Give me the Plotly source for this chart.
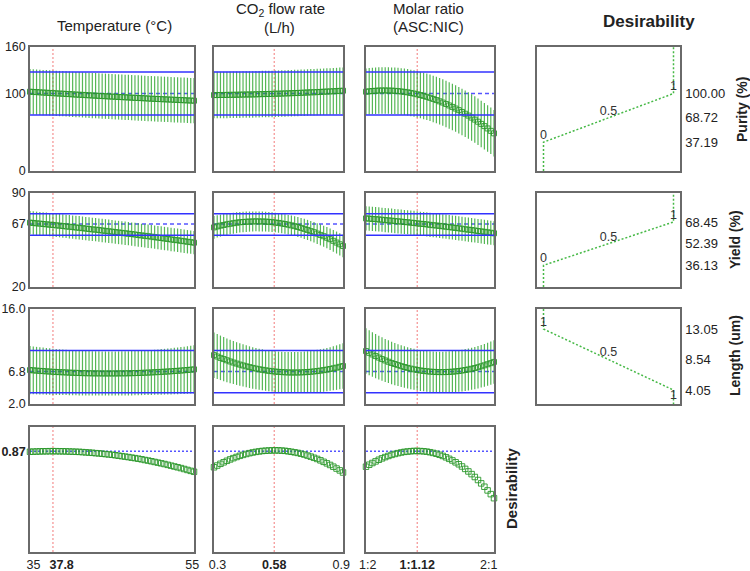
import plotly.graph_objects as go

# ---------------- data ----------------
temp_x = [35.0, 35.4, 35.8, 36.2, 36.6, 37.0, 37.4, 37.8, 38.2, 38.6, 39.0, 39.4, 39.8, 40.2, 40.6,
          41.0, 41.4, 41.8, 42.2, 42.6, 43.0, 43.4, 43.8, 44.2, 44.6, 45.0, 45.4, 45.8, 46.2, 46.6,
          47.0, 47.4, 47.8, 48.2, 48.6, 49.0, 49.4, 49.8, 50.2, 50.6, 51.0, 51.4, 51.8, 52.2, 52.6,
          53.0, 53.4, 53.8, 54.2, 54.6, 55.0]
co2_x = [0.300, 0.315, 0.330, 0.345, 0.360, 0.375, 0.390, 0.405, 0.420, 0.435, 0.450, 0.465, 0.480,
         0.495, 0.510, 0.525, 0.540, 0.555, 0.570, 0.585, 0.600, 0.615, 0.630, 0.645, 0.660, 0.675,
         0.690, 0.705, 0.720, 0.735, 0.750, 0.765, 0.780, 0.795, 0.810, 0.825, 0.840, 0.855, 0.870,
         0.885, 0.900]
# molar ratio ASC:NIC on a coded scale (0 = 1:2, 1 = 2:1)
molar_x = [0.000, 0.025, 0.050, 0.075, 0.100, 0.125, 0.150, 0.175, 0.200, 0.225, 0.250, 0.275, 0.300,
           0.325, 0.350, 0.375, 0.400, 0.425, 0.450, 0.475, 0.500, 0.525, 0.550, 0.575, 0.600, 0.625,
           0.650, 0.675, 0.700, 0.725, 0.750, 0.775, 0.800, 0.825, 0.850, 0.875, 0.900, 0.925, 0.950,
           0.975, 1.000]

factor_titles = ["Temperature (°C)", "CO<sub>2</sub> flow rate", "Molar ratio"]
factor_ranges = [[35, 55], [0.3, 0.9], [0.0, 1.0]]
factor_tickvals = [[35, 37.8, 55], [0.3, 0.58, 0.9], [0.0, 0.4, 1.0]]
factor_ticktext = [["35", "37.8", "55"], ["0.3", "0.58", "0.9"], ["1:2", "1:1.12", "2:1"]]
optimum_x = [37.8, 0.58, 0.4]

# Purity (%)
pur_temp = [102.3, 102.0, 101.8, 101.5, 101.2, 101.0, 100.7, 100.4, 100.2, 99.9, 99.7, 99.4, 99.2,
            98.9, 98.6, 98.4, 98.2, 97.9, 97.7, 97.4, 97.2, 96.9, 96.7, 96.5, 96.2, 96.0, 95.8, 95.5,
            95.3, 95.1, 94.9, 94.6, 94.4, 94.2, 94.0, 93.8, 93.5, 93.3, 93.1, 92.9, 92.7, 92.5, 92.3,
            92.1, 91.9, 91.7, 91.5, 91.3, 91.1, 90.9, 90.7]
pur_co2 = [98.0, 98.0, 98.1, 98.1, 98.2, 98.3, 98.3, 98.4, 98.5, 98.6, 98.7, 98.7, 98.8, 98.9, 99.1,
           99.2, 99.3, 99.4, 99.5, 99.7, 99.8, 99.9, 100.1, 100.2, 100.4, 100.6, 100.7, 100.9, 101.1,
           101.3, 101.5, 101.6, 101.8, 102.0, 102.3, 102.5, 102.7, 102.9, 103.1, 103.4, 103.6]
pur_molar = [102.3, 102.8, 103.2, 103.5, 103.8, 103.9, 103.9, 103.8, 103.7, 103.4, 103.1, 102.6, 102.1,
             101.5, 100.7, 99.9, 99.0, 98.0, 96.9, 95.7, 94.4, 93.0, 91.5, 89.9, 88.3, 86.5, 84.6, 82.7,
             80.6, 78.5, 76.2, 73.9, 71.5, 68.9, 66.3, 63.6, 60.8, 57.9, 54.9, 51.8, 48.6]
pur_temp_err = 29.2
pur_co2_err = 30.0
pur_molar_err = 30.0

# Yield (%)
yld_temp = [67.9, 67.7, 67.4, 67.2, 66.9, 66.7, 66.4, 66.2, 65.9, 65.7, 65.4, 65.1, 64.9, 64.6, 64.3,
            64.1, 63.8, 63.5, 63.2, 62.9, 62.7, 62.4, 62.1, 61.8, 61.5, 61.2, 60.9, 60.6, 60.3, 60.0,
            59.7, 59.4, 59.1, 58.7, 58.4, 58.1, 57.8, 57.5, 57.1, 56.8, 56.5, 56.1, 55.8, 55.4, 55.1,
            54.8, 54.4, 54.1, 53.7, 53.4, 53.0]
yld_co2 = [64.4, 65.1, 65.7, 66.2, 66.7, 67.1, 67.5, 67.9, 68.2, 68.4, 68.6, 68.7, 68.8, 68.9, 68.8,
           68.8, 68.7, 68.5, 68.3, 68.0, 67.7, 67.3, 66.9, 66.4, 65.9, 65.3, 64.7, 64.0, 63.3, 62.5,
           61.6, 60.8, 59.8, 58.8, 57.8, 56.7, 55.6, 54.4, 53.1, 51.8, 50.5]
yld_molar = [71.1, 70.9, 70.7, 70.5, 70.3, 70.1, 69.8, 69.6, 69.4, 69.1, 68.9, 68.7, 68.4, 68.2, 67.9,
             67.7, 67.4, 67.1, 66.9, 66.6, 66.3, 66.0, 65.8, 65.5, 65.2, 64.9, 64.6, 64.3, 64.0, 63.7,
             63.4, 63.0, 62.7, 62.4, 62.1, 61.7, 61.4, 61.1, 60.7, 60.4, 60.0]
yld_temp_err = 8.7
yld_co2_err = [8.4, 8.3, 8.2, 8.1, 8.0, 7.9, 7.8, 7.8, 7.7, 7.6, 7.6, 7.5, 7.5, 7.4, 7.4, 7.4, 7.3, 7.3,
               7.3, 7.3, 7.3, 7.3, 7.3, 7.3, 7.3, 7.4, 7.4, 7.4, 7.5, 7.5, 7.6, 7.6, 7.7, 7.8, 7.8, 7.9,
               8.0, 8.1, 8.2, 8.3, 8.4]
yld_molar_err = 9.0

# Length (um)
len_temp = [7.00, 6.96, 6.92, 6.88, 6.85, 6.81, 6.78, 6.75, 6.72, 6.69, 6.67, 6.65, 6.62, 6.60, 6.59,
            6.57, 6.55, 6.54, 6.53, 6.52, 6.51, 6.51, 6.50, 6.50, 6.50, 6.50, 6.50, 6.51, 6.52, 6.52,
            6.53, 6.54, 6.56, 6.57, 6.59, 6.61, 6.63, 6.65, 6.68, 6.70, 6.73, 6.76, 6.79, 6.82, 6.86,
            6.89, 6.93, 6.97, 7.01, 7.06, 7.10]
len_co2 = [9.20, 9.00, 8.80, 8.62, 8.44, 8.27, 8.11, 7.96, 7.81, 7.68, 7.55, 7.43, 7.32, 7.22, 7.12,
           7.04, 6.96, 6.89, 6.83, 6.78, 6.73, 6.70, 6.67, 6.65, 6.64, 6.64, 6.64, 6.66, 6.68, 6.71,
           6.75, 6.80, 6.85, 6.92, 6.99, 7.07, 7.16, 7.26, 7.36, 7.48, 7.60]
len_molar = [9.80, 9.54, 9.30, 9.06, 8.84, 8.62, 8.42, 8.23, 8.05, 7.89, 7.73, 7.58, 7.45, 7.32, 7.21,
             7.11, 7.02, 6.94, 6.87, 6.82, 6.77, 6.74, 6.71, 6.70, 6.70, 6.71, 6.73, 6.76, 6.81, 6.86,
             6.93, 7.01, 7.09, 7.19, 7.30, 7.42, 7.56, 7.70, 7.86, 8.02, 8.20]
len_temp_err = [3.55, 3.53, 3.50, 3.48, 3.46, 3.44, 3.42, 3.41, 3.39, 3.37, 3.36, 3.34, 3.33, 3.32,
                3.31, 3.30, 3.29, 3.28, 3.27, 3.27, 3.26, 3.26, 3.25, 3.25, 3.25, 3.25, 3.25, 3.25,
                3.25, 3.26, 3.26, 3.27, 3.27, 3.28, 3.29, 3.30, 3.31, 3.32, 3.33, 3.34, 3.36, 3.37,
                3.39, 3.41, 3.42, 3.44, 3.46, 3.48, 3.50, 3.53, 3.55]
len_co2_err = [3.35, 3.32, 3.28, 3.25, 3.22, 3.20, 3.17, 3.15, 3.13, 3.11, 3.09, 3.07, 3.06, 3.04,
               3.03, 3.02, 3.01, 3.01, 3.00, 3.00, 3.00, 3.00, 3.00, 3.01, 3.01, 3.02, 3.03, 3.04,
               3.06, 3.07, 3.09, 3.11, 3.13, 3.15, 3.17, 3.20, 3.22, 3.25, 3.28, 3.32, 3.35]
len_molar_err = [3.35, 3.32, 3.28, 3.25, 3.22, 3.20, 3.17, 3.15, 3.13, 3.11, 3.09, 3.07, 3.06, 3.04,
                 3.03, 3.02, 3.01, 3.01, 3.00, 3.00, 3.00, 3.00, 3.00, 3.01, 3.01, 3.02, 3.03, 3.04,
                 3.05, 3.06, 3.07, 3.08, 3.09, 3.10, 3.11, 3.12, 3.14, 3.15, 3.17, 3.18, 3.20]

# Overall desirability
des_temp = [0.866, 0.867, 0.868, 0.869, 0.870, 0.870, 0.871, 0.871, 0.871, 0.870, 0.870, 0.869, 0.868,
            0.867, 0.866, 0.865, 0.863, 0.861, 0.859, 0.857, 0.854, 0.852, 0.849, 0.846, 0.843, 0.840,
            0.836, 0.832, 0.828, 0.824, 0.820, 0.815, 0.811, 0.806, 0.801, 0.795, 0.790, 0.784, 0.778,
            0.772, 0.766, 0.760, 0.753, 0.746, 0.739, 0.732, 0.725, 0.717, 0.709, 0.701, 0.693]
des_co2 = [0.732, 0.747, 0.762, 0.775, 0.788, 0.800, 0.811, 0.821, 0.831, 0.839, 0.847, 0.854, 0.860,
           0.865, 0.869, 0.873, 0.875, 0.877, 0.878, 0.878, 0.878, 0.876, 0.874, 0.870, 0.866, 0.861,
           0.856, 0.849, 0.842, 0.833, 0.824, 0.814, 0.804, 0.792, 0.779, 0.766, 0.752, 0.737, 0.721,
           0.705, 0.687]
des_molar = [0.737, 0.754, 0.769, 0.783, 0.797, 0.809, 0.820, 0.830, 0.839, 0.847, 0.854, 0.860, 0.865,
             0.868, 0.871, 0.873, 0.873, 0.872, 0.870, 0.867, 0.862, 0.856, 0.849, 0.840, 0.830, 0.818,
             0.805, 0.791, 0.775, 0.758, 0.739, 0.718, 0.696, 0.673, 0.648, 0.622, 0.593, 0.564, 0.532,
             0.500, 0.465]

# predicted value at optimum and its interval
pur_pred, pur_low, pur_high = 100.0, 72.2, 127.8
yld_pred, yld_low, yld_high = 67.0, 58.5, 74.6
len_pred, len_low, len_high = 6.8, 3.67, 9.9
des_pred = 0.87

# individual desirability functions (response value at d = 0, 0.5, 1)
desir_x = [0, 0, 1, 1]
pur_desir_y = [0, 37.19, 100.00, 160]
yld_desir_y = [20, 36.13, 68.45, 90]
len_desir_y = [16, 13.05, 4.05, 2]
pur_desir_ticks = [37.19, 68.72, 100.00]
yld_desir_ticks = [36.13, 52.39, 68.45]
len_desir_ticks = [4.05, 8.54, 13.05]
label_x = [0, 0.5, 1]
pur_desir_labels = ["0", "0.5", "1"]
yld_desir_labels = ["0", "0.5", "1"]
len_desir_labels = ["1", "0.5", "1"]

# ---------------- figure ----------------
W, H = 750, 571
FONT = "Liberation Sans, Arial, Helvetica, sans-serif"
col_px = [(30, 194), (214, 343), (366, 494), (537, 680)]
row_px = [(47, 171), (193, 287), (309, 404), (427, 552)]

GREEN_ERR = "rgba(45,165,45,0.8)"
GREEN_MK = "rgb(40,150,40)"
BLUE = "rgb(50,50,255)"
BLUE_DASH = "rgb(85,85,255)"
RED = "rgba(240,100,100,0.85)"
FRAME = "#6a6a6a"
NB = "\u00a0"

# small horizontal nudges (in spaces) of the factor tick labels, as in the original layout
label_pad = [[(2, 0), (5, 0), (0, 1)], [(2, 0), (0, 0), (0, 1)], [(1, 0), (0, 0), (0, 3)]]
bold_tick = 1

rows = [
    dict(means=[pur_temp, pur_co2, pur_molar], errs=[pur_temp_err, pur_co2_err, pur_molar_err],
         yrange=[0, 160], tickvals=[0, 100, 160], ticktext=["0", "100", "160"],
         pred=pur_pred, low=pur_low, high=pur_high),
    dict(means=[yld_temp, yld_co2, yld_molar], errs=[yld_temp_err, yld_co2_err, yld_molar_err],
         yrange=[20, 90], tickvals=[20, 67, 90], ticktext=["20", "67", "90"],
         pred=yld_pred, low=yld_low, high=yld_high),
    dict(means=[len_temp, len_co2, len_molar], errs=[len_temp_err, len_co2_err, len_molar_err],
         yrange=[2, 16], tickvals=[2, 6.8, 16], ticktext=["2.0", "6.8", "16.0"],
         pred=len_pred, low=len_low, high=len_high),
    dict(means=[des_temp, des_co2, des_molar], errs=[None, None, None],
         yrange=[0, 1.08], tickvals=[0.87], ticktext=["<b>0.87</b>"],
         pred=des_pred, low=None, high=None),
]
xs = [temp_x, co2_x, molar_x]

fig = go.Figure()
layout = {}
shapes = []


def names(i):
    return ("x" if i == 1 else f"x{i}", "y" if i == 1 else f"y{i}",
            "xaxis" if i == 1 else f"xaxis{i}", "yaxis" if i == 1 else f"yaxis{i}")


def dom(r, c):
    x0, x1 = col_px[c]
    y0, y1 = row_px[r]
    return [x0 / W, x1 / W], [1 - y1 / H, 1 - y0 / H]


def xticklabels(c):
    out = []
    for j, t in enumerate(factor_ticktext[c]):
        txt = f"<b>{t}</b>" if j == bold_tick else t
        lp, rp = label_pad[c][j]
        out.append(NB * lp + txt + NB * rp)
    return out


base_axis = dict(showline=True, mirror=True, linecolor=FRAME, linewidth=1.5, showgrid=False,
                 zeroline=False, ticks="", fixedrange=True, automargin=False)

idx = 0
for r, row in enumerate(rows):
    for c in range(3):
        idx += 1
        xr, yr, xk, yk = names(idx)
        xd, yd = dom(r, c)
        layout[xk] = dict(base_axis, domain=xd, anchor=yr, range=factor_ranges[c],
                          tickvals=factor_tickvals[c], ticktext=xticklabels(c), tickangle=0,
                          showticklabels=(r == 3), tickfont=dict(size=12.5, color="#222"),
                          ticklabelstandoff=0)
        layout[yk] = dict(base_axis, domain=yd, anchor=xr, range=row["yrange"],
                          tickvals=row["tickvals"], ticktext=row["ticktext"],
                          showticklabels=(c == 0), tickfont=dict(size=12.5, color="#222"),
                          ticklabelstandoff=0)
        err = row["errs"][c]
        if err is None:
            ey = None
        elif isinstance(err, list):
            ey = dict(type="data", array=err, color=GREEN_ERR, thickness=1.2, width=0)
        else:
            ey = dict(type="constant", value=err, color=GREEN_ERR, thickness=1.2, width=0)
        fig.add_trace(go.Scatter(
            x=xs[c], y=row["means"][c], mode="markers", xaxis=xr, yaxis=yr,
            marker=dict(symbol="square-open", size=5.5 if r == 3 else 5, color=GREEN_MK,
                        line=dict(width=0.9, color=GREEN_MK)),
            error_y=ey, cliponaxis=False, showlegend=False, hoverinfo="skip"))
        # optimum factor setting
        shapes.append(dict(type="line", xref=xr, yref=f"{yr} domain", x0=optimum_x[c], x1=optimum_x[c],
                           y0=0, y1=1, line=dict(color=RED, width=1, dash="2px,2px"), layer="below"))
        # predicted response at optimum
        shapes.append(dict(type="line", xref=f"{xr} domain", yref=yr, x0=0, x1=1,
                           y0=row["pred"], y1=row["pred"],
                           line=dict(color=BLUE_DASH, width=1.5, dash="2px,2px" if r == 3 else "4px,3px"),
                           layer="below"))
        if row["low"] is not None:
            for v in (row["low"], row["high"]):
                shapes.append(dict(type="line", xref=f"{xr} domain", yref=yr, x0=0, x1=1, y0=v, y1=v,
                                   line=dict(color=BLUE, width=1.5), layer="above"))

# desirability function panels
desir = [(pur_desir_y, pur_desir_ticks, pur_desir_labels, [0, 160],
          ["top center", "top center", "top center"]),
         (yld_desir_y, yld_desir_ticks, yld_desir_labels, [20, 90],
          ["top center", "top center", "top center"]),
         (len_desir_y, len_desir_ticks, len_desir_labels, [2, 16],
          ["top center", "top center", "bottom center"])]
for r, (dy, dticks, dlabels, yrg, tpos) in enumerate(desir):
    idx += 1
    xr, yr, xk, yk = names(idx)
    xd, yd = dom(r, 3)
    layout[xk] = dict(base_axis, domain=xd, anchor=yr, range=[-0.05, 1.05], showticklabels=False)
    layout[yk] = dict(base_axis, domain=yd, anchor=xr, range=yrg, side="right",
                      tickvals=dticks, ticktext=[f"{v:.2f}" for v in dticks],
                      tickfont=dict(size=13, color="#222"), ticklabelstandoff=1)
    fig.add_trace(go.Scatter(x=desir_x, y=dy, mode="lines", xaxis=xr, yaxis=yr,
                             line=dict(color="rgb(70,185,70)", width=1.5, dash="2px,2px"),
                             cliponaxis=True, showlegend=False, hoverinfo="skip"))
    ly = [dy[1], (dy[1] + dy[2]) / 2, dy[2]]
    fig.add_trace(go.Scatter(x=label_x, y=ly, mode="text", text=dlabels, xaxis=xr, yaxis=yr,
                             textposition=tpos, textfont=dict(size=12.5, color="#333"),
                             cliponaxis=False, showlegend=False, hoverinfo="skip"))


def ann(text, x, y, size, angle=0):
    return dict(text=text, x=x / W, y=1 - y / H, xref="paper", yref="paper", showarrow=False,
                xanchor="center", yanchor="middle", textangle=angle,
                font=dict(family=FONT, size=size, color="#222"))


annotations = [
    ann(factor_titles[0], 115, 25, 15),
    ann(factor_titles[1], 280, 9, 15),
    ann("(L/h)", 279, 28, 15),
    ann(factor_titles[2], 428, 8, 15),
    ann("(ASC:NIC)", 428, 27, 15),
    ann("<b>Desirability</b>", 649, 21, 17),
    ann("<b>Purity (%)</b>", 742, 110, 14, -90),
    ann("<b>Yield (%)</b>", 735, 240, 14, -90),
    ann("<b>Length (um)</b>", 735, 356, 14, -90),
    ann("<b>Desirability</b>", 511, 488, 15, -90),
]

fig.update_layout(
    width=W, height=H, margin=dict(l=0, r=0, t=0, b=0, autoexpand=False),
    paper_bgcolor="white", plot_bgcolor="white",
    font=dict(family=FONT, size=12, color="#222"),
    showlegend=False, shapes=shapes, annotations=annotations,
    **layout)

fig.write_html("out.html")
